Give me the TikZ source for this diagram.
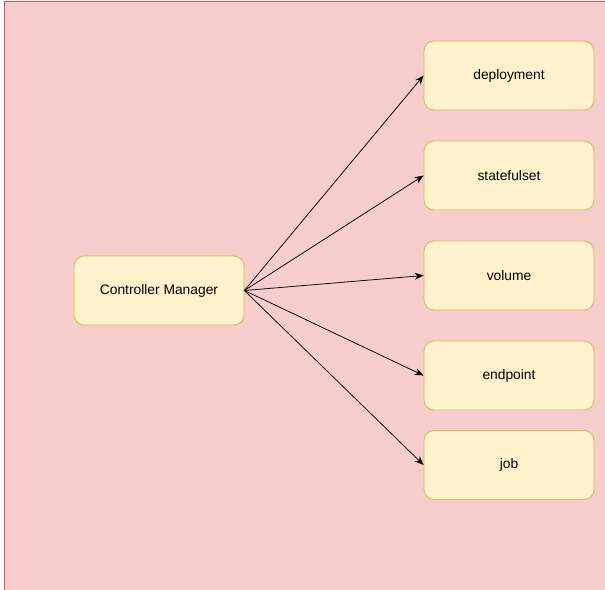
\documentclass[tikz,border=0pt]{standalone}
\usepackage{fontspec}
\setmainfont{Liberation Sans}
\usetikzlibrary{arrows.meta}
\definecolor{bgpink}{HTML}{F8CECC}
\definecolor{bgred}{HTML}{D05A5A}
\definecolor{boxfill}{HTML}{FFF2CC}
\definecolor{boxline}{HTML}{D6B656}
\tikzset{
  box/.style={draw=boxline, fill=boxfill, rounded corners=10pt, minimum width=170pt, minimum height=69pt, line width=0.8pt, inner sep=0pt, font=\fontsize{13.8}{16}\selectfont},
  conn/.style={-{Stealth[length=9pt,width=7pt]}, line width=0.75pt, black}
}
\begin{document}
\begin{tikzpicture}[x=1pt,y=-1pt]
\useasboundingbox (0,0) rectangle (605,589);
\fill[white] (0,0) rectangle (605,589);
\fill[bgpink] (4,1) rectangle (606,590);
\draw[bgred, line width=1pt] (4,590) -- (4,1) -- (606,1);
\node[box] (cm) at (159,290.5) {Controller Manager};
\node[box] (dep) at (509,75.5) {deployment};
\node[box] (sts) at (509,175.5) {statefulset};
\node[box] (vol) at (509,275.5) {volume};
\node[box] (ep) at (509,375.5) {endpoint};
\node[box] (job) at (509,465) {job};
\foreach \t in {dep,sts,vol,ep,job}{
  \draw[conn] (cm.east) -- (\t.west);
}
\end{tikzpicture}
\end{document}
